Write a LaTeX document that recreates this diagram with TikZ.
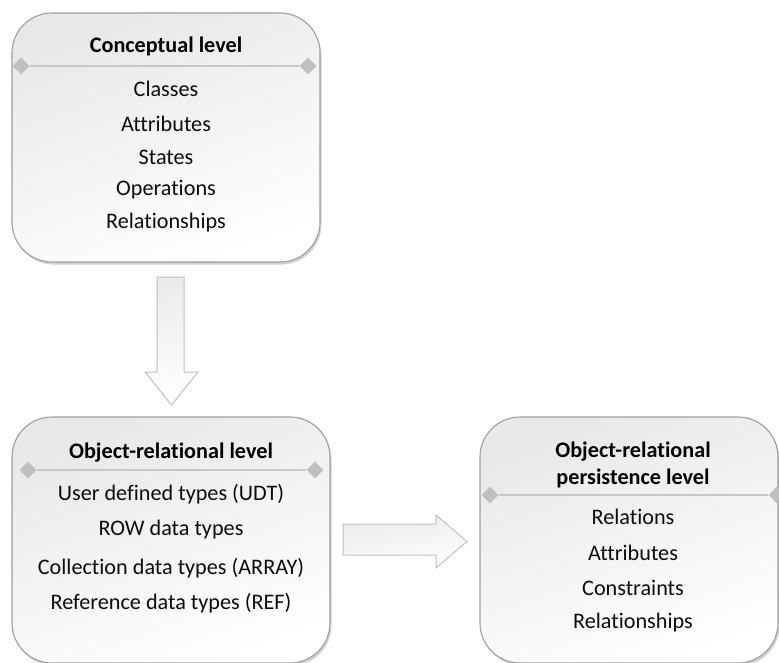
\documentclass[tikz,border=0pt]{standalone}
\usepackage{fontspec}
\setmainfont{Carlito}[Ligatures=NoCommon]
\usetikzlibrary{shapes.geometric,shadows}

\tikzset{
  levelbox/.style={draw=black!38, line width=1.1pt, rounded corners=40pt,
    top color=black!9, bottom color=white, shading angle=20,
    inner sep=0pt, outer sep=0pt,
    drop shadow={shadow xshift=1.5pt, shadow yshift=-2.5pt, opacity=0.3, fill=black!60}},
  divider/.style={draw=black!22, line width=1.2pt},
  sep/.style={diamond, fill=black!25, inner sep=0pt, minimum size=17pt},
  titletext/.style={font=\fontsize{22.2}{27}\selectfont\bfseries, text=black, align=center, inner sep=0pt},
  itemtext/.style={font=\fontsize{22.2}{27}\selectfont, text=black!95, inner sep=0pt},
  blockarrow/.style={draw=black!25, line width=1pt, top color=black!8, bottom color=white, shading angle=10},
}

\begin{document}
\begin{tikzpicture}[x=1pt,y=-1pt]
\useasboundingbox (0,0) rectangle (779,663);

% ---- Conceptual level ----
\node[levelbox, minimum width=308pt, minimum height=249pt] (concept) at (166,137.5) {};
\node[titletext] (concept-title) at (166,46) {Conceptual level};
\node[sep] (concept-l) at (21,66) {};
\node[sep] (concept-r) at (308,66) {};
\draw[divider] (concept-l) -- (concept-r);
\node[itemtext] (c1) at (166,89)  {Classes};
\node[itemtext] (c2) at (166,124) {Attributes};
\node[itemtext] (c3) at (166,157) {States};
\node[itemtext] (c4) at (166,190) {Operations};
\node[itemtext] (c5) at (166,223) {Relationships};

% ---- Object-relational level ----
\node[levelbox, minimum width=318pt, minimum height=246pt] (objrel) at (171,540) {};
\node[titletext] (objrel-title) at (171,453) {Object-relational level};
\node[sep] (objrel-l) at (28,470) {};
\node[sep] (objrel-r) at (315,470) {};
\draw[divider] (objrel-l) -- (objrel-r);
\node[itemtext] (o1) at (171,494) {User defined types (UDT)};
\node[itemtext] (o2) at (171,530) {ROW data types};
\node[itemtext] (o3) at (171,568) {Collection data types (ARRAY)};
\node[itemtext] (o4) at (171,603) {Reference data types (REF)};

% ---- Object-relational persistence level ----
\node[levelbox, minimum width=298pt, minimum height=246pt] (persist) at (629,540) {};
\node[titletext] (persist-title) at (633,465) {Object-relational\\persistence level};
\node[sep] (persist-l) at (490,495) {};
\node[sep] (persist-r) at (777,495) {};
\draw[divider] (persist-l) -- (persist-r);
\node[itemtext] (p1) at (633,517) {Relations};
\node[itemtext] (p2) at (633,553) {Attributes};
\node[itemtext] (p3) at (633,588) {Constraints};
\node[itemtext] (p4) at (633,623) {Relationships};

% ---- block arrows between the levels ----
\draw[blockarrow] (157,277) -- (184,277) -- (184,372) -- (198,372) -- (171.5,405)
  -- (145,372) -- (157,372) -- cycle;
\draw[blockarrow] (343,524) -- (436,524) -- (436,515) -- (467,541.5) -- (436,568)
  -- (436,555) -- (343,555) -- cycle;

\end{tikzpicture}
\end{document}
